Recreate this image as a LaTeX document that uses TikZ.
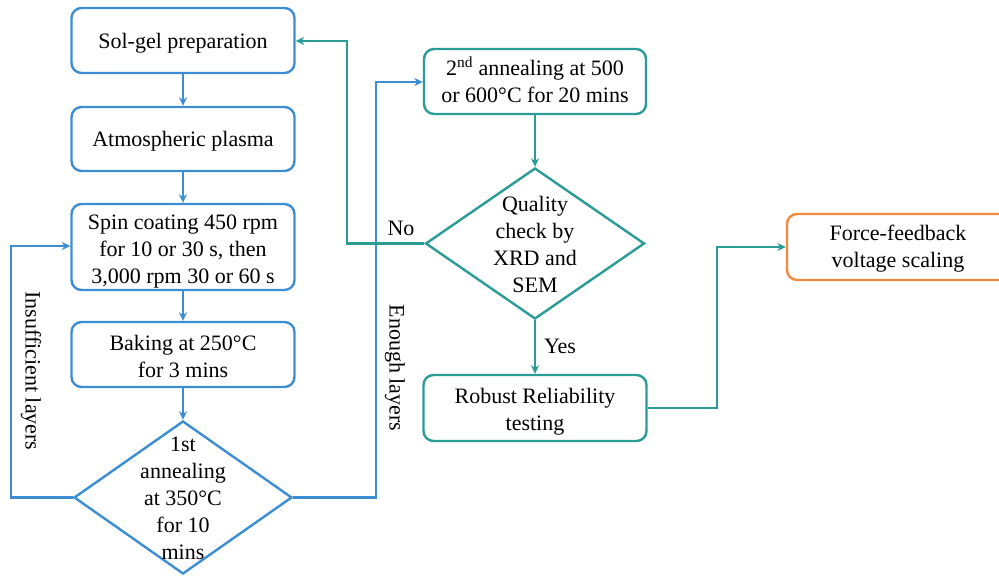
\documentclass[tikz,border=0pt]{standalone}
\usepackage{fontspec}
\setmainfont{Liberation Serif}
\usetikzlibrary{arrows.meta,shapes.geometric}
\definecolor{cblue}{HTML}{3D8DD2}
\definecolor{cteal}{HTML}{2A9C97}
\definecolor{corange}{HTML}{F4893B}
\begin{document}
\begin{tikzpicture}[x=1pt,y=-1pt,
  font=\fontsize{22}{27}\selectfont,
  box/.style={draw, line width=2.4pt, rounded corners=10pt, inner sep=0pt},
  bbox/.style={box, draw=cblue},
  tbox/.style={box, draw=cteal},
  obox/.style={box, draw=corange},
  dia/.style={diamond, draw, line width=2.4pt, inner sep=0pt},
  txt/.style={align=center, inner sep=0pt},
  conn/.style={line width=2.4pt, -{Stealth[length=8.5pt,width=8pt]}},
  bconn/.style={conn, cblue},
  tconn/.style={conn, cteal}]
\useasboundingbox (0,0) rectangle (999,576);
% left column
\node[bbox, minimum width=223pt, minimum height=65pt] (sol) at (183,40.5) {};
\node[txt] (solt) at (183,43.5) {Sol-gel preparation};
\node[bbox, minimum width=223pt, minimum height=64pt] (atm) at (183,139) {};
\node[txt] (atmt) at (183,141) {Atmospheric plasma};
\node[bbox, minimum width=223pt, minimum height=86pt] (spin) at (183,247) {};
\node[txt] (spint) at (183,252) {Spin coating 450 rpm\\for 10 or 30 s, then\\3,000 rpm 30 or 60 s};
\node[bbox, minimum width=223pt, minimum height=65pt] (bake) at (183,354.5) {};
\node[txt] (baket) at (183,356.5) {Baking at 250°C\\for 3 mins};
\node[dia, draw=cblue, minimum width=218pt, minimum height=153pt] (ann1) at (183,497.5) {};
\node[txt] (ann1t) at (183,498) {1st\\annealing\\at 350°C\\for 10\\mins};
% right column
\node[tbox, minimum width=222pt, minimum height=65pt] (ann2) at (535,81.5) {};
\node[txt] (ann2t) at (535,80) {2\textsuperscript{nd} annealing at 500\\or 600°C for 20 mins};
\node[dia, draw=cteal, minimum width=219pt, minimum height=151pt] (qc) at (535,243.5) {};
\node[txt] (qct) at (535,244.5) {Quality\\check by\\XRD and\\SEM};
\node[tbox, minimum width=223pt, minimum height=66pt] (rob) at (535,408) {};
\node[txt] (robt) at (535,412) {Robust Reliability\\testing};
\node[obox, minimum width=222pt, minimum height=66pt] (force) at (898,247) {};
\node[txt] (forcet) at (898,248.5) {Force-feedback\\voltage scaling};
% connectors
\draw[bconn] (sol) -- (atm);
\draw[bconn] (atm) -- (spin);
\draw[bconn] (spin) -- (bake);
\draw[bconn] (bake) -- (ann1.north);
\coordinate (insL) at (11,497.5);
\coordinate (insT) at (11,246);
\draw[bconn] (ann1.west) -- (insL) -- (insT) -- (spin.west |- insT);
\coordinate (enB) at (376,497.5);
\coordinate (enT) at (376,82);
\draw[bconn] (ann1.east) -- (enB) -- (enT) -- (ann2.west |- enT);
\draw[tconn] (ann2) -- (qc.north);
\coordinate (noL) at (347,243.5);
\coordinate (noT) at (347,41);
\draw[tconn] (qc.west) -- (noL) -- (noT) -- (sol.east |- noT);
\draw[tconn] (qc.south) -- (rob.north);
\coordinate (rfB) at (717,408);
\coordinate (rfT) at (717,247);
\draw[tconn] (rob.east) -- (rfB) -- (rfT) -- (force.west);
% labels
\node[txt] (nolab) at (401,228) {No};
\node[txt] (yeslab) at (560,346) {Yes};
\node[txt, rotate=-90] (inslab) at (31,371) {Insufficient layers};
\node[txt, rotate=-90] (enlab) at (395,368) {Enough layers};
\end{tikzpicture}
\end{document}
